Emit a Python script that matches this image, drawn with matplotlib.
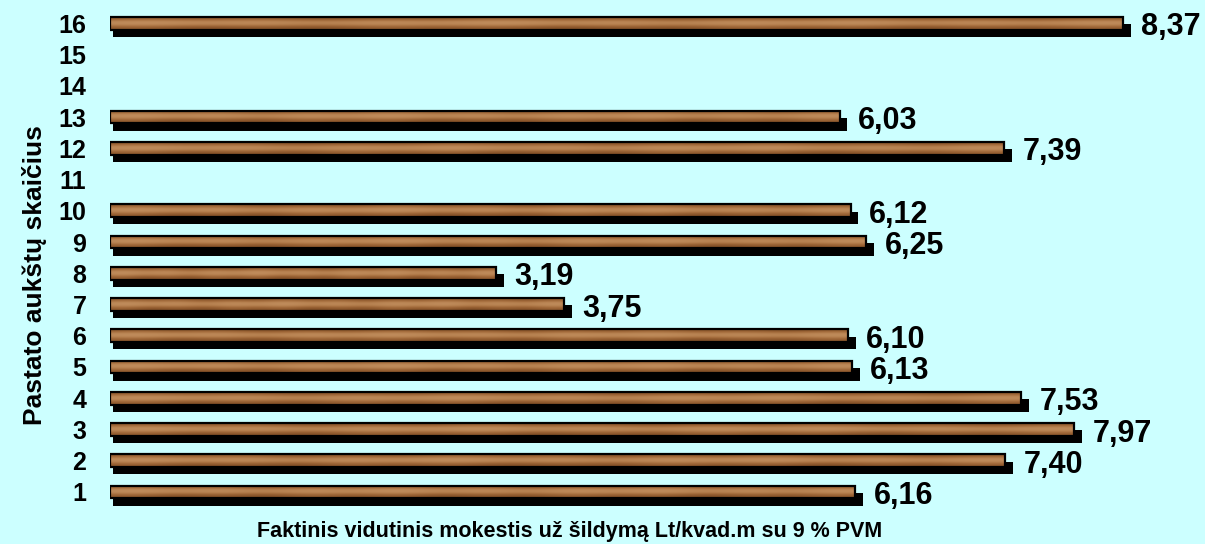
import numpy as np
import matplotlib
matplotlib.use("Agg")
import matplotlib.pyplot as plt
from matplotlib.patches import Rectangle
from matplotlib.colors import LinearSegmentedColormap

floors = [1, 2, 3, 4, 5, 6, 7, 8, 9, 10, 11, 12, 13, 14, 15, 16]
values = [6.16, 7.40, 7.97, 7.53, 6.13, 6.10, 3.75, 3.19, 6.25, 6.12, None, 7.39, 6.03, None, None, 8.37]
value_labels = ["6,16", "7,40", "7,97", "7,53", "6,13", "6,10", "3,75", "3,19", "6,25", "6,12", "", "7,39", "6,03", "", "", "8,37"]

plt.rcParams['font.family'] = ['Liberation Sans', 'DejaVu Sans']
bg = '#CCFFFF'
fig = plt.figure(figsize=(12.05, 5.44), dpi=100, facecolor=bg)
ax = fig.add_axes([0.0913, 0.0669, 0.9037, 0.919])
ax.set_facecolor(bg)

wood = LinearSegmentedColormap.from_list('wood', ['#6e4220', '#8a552a', '#a46c3c', '#b88352', '#c49262'])
# wood grain texture (deterministic, style only)
ny, nx = 10, 300
yy = np.linspace(0, 1, ny)[:, None]
xx = np.linspace(0, 1, nx)[None, :]
tex = 0.3 + 0.55 * np.exp(-((yy - 0.45) / 0.3) ** 2) + 0.04 * np.sin(19 * xx + 2 * yy) + 0.03 * np.sin(53 * xx)
tex = (tex - tex.min()) / (tex.max() - tex.min())
tex = 0.15 + 0.75 * tex

h = 0.41
dy = 0.23
dx0, dx1 = 0.025, 0.065
for f, v, lab in zip(floors, values, value_labels):
    if v is None:
        continue
    ax.add_patch(Rectangle((dx0, f - h / 2 - dy), v + dx1 - dx0, h, facecolor='black', edgecolor='black', lw=0, zorder=2))
    ax.imshow(tex, extent=[0, v, f - h / 2, f + h / 2], cmap=wood, vmin=0, vmax=1, aspect='auto', zorder=3, interpolation='bilinear')
    ax.add_patch(Rectangle((0, f - h / 2), v, h, facecolor='none', edgecolor='black', lw=1.6, zorder=4))
    ax.text(v + 0.15, f - 0.13, lab, fontsize=22, fontweight='bold', va='center', ha='left', zorder=5)

ax.set_xlim(0, 9.0)
ax.set_ylim(0.5, 16.5)
ax.set_yticks(floors)
ax.set_yticklabels([str(f) for f in floors], fontsize=18, fontweight='bold')
ax.tick_params(axis='y', length=0, pad=17)
ax.set_xticks([])
for s in ax.spines.values():
    s.set_visible(False)

fig.text(0.029, 0.495, 'Pastato aukštų skaičius', rotation=90, fontsize=19, fontweight='bold', ha='center', va='center')
fig.text(0.473, 0.023, 'Faktinis vidutinis mokestis už šildymą Lt/kvad.m su 9 % PVM', fontsize=15.5, fontweight='bold', ha='center', va='center')

fig.savefig('out.png', dpi=100, facecolor=bg)
